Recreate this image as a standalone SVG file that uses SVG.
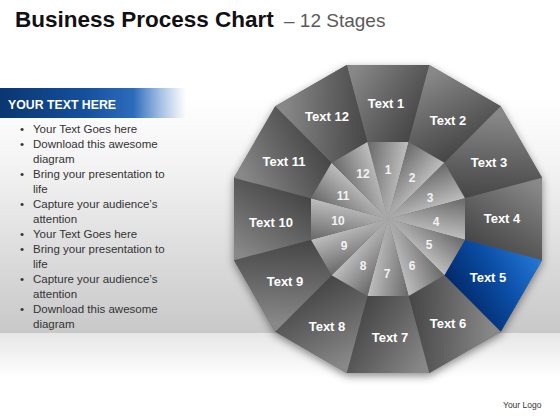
<svg xmlns="http://www.w3.org/2000/svg" width="560" height="420" viewBox="0 0 560 420">
<defs>
<linearGradient id="band" x1="0" y1="0" x2="0" y2="1">
<stop offset="0" stop-color="#ffffff"/>
<stop offset="0.3" stop-color="#f3f3f3"/>
<stop offset="1" stop-color="#c8c8c8"/>
</linearGradient>
<linearGradient id="floor" x1="0" y1="0" x2="0" y2="1">
<stop offset="0" stop-color="#e6e6e6"/>
<stop offset="1" stop-color="#ffffff"/>
</linearGradient>
<linearGradient id="hdr" x1="0" y1="0" x2="1" y2="0">
<stop offset="0" stop-color="#0a3670"/>
<stop offset="0.45" stop-color="#154f9c"/>
<stop offset="0.72" stop-color="#2d6cbc"/>
<stop offset="1" stop-color="#5b8fd0" stop-opacity="0"/>
</linearGradient>
<linearGradient id="og" x1="0" y1="0.2" x2="1" y2="0.8">
<stop offset="0" stop-color="#888888"/>
<stop offset="0.5" stop-color="#626262"/>
<stop offset="1" stop-color="#3f3f3f"/>
</linearGradient>
<linearGradient id="ig" x1="0" y1="0" x2="1" y2="0.3">
<stop offset="0" stop-color="#686868"/>
<stop offset="1" stop-color="#c6c6c6"/>
</linearGradient>
<linearGradient id="bg5" x1="0" y1="0" x2="1" y2="0.5">
<stop offset="0" stop-color="#2479d8"/>
<stop offset="0.5" stop-color="#0b4ea6"/>
<stop offset="1" stop-color="#02296a"/>
</linearGradient>
<radialGradient id="hub" cx="0.5" cy="0.5" r="0.5">
<stop offset="0" stop-color="#a8a8a8" stop-opacity="0.85"/>
<stop offset="1" stop-color="#a8a8a8" stop-opacity="0"/>
</radialGradient>
<filter id="shadow" x="-20%" y="-20%" width="140%" height="140%">
<feGaussianBlur in="SourceAlpha" stdDeviation="4"/>
<feOffset dy="3" result="b"/>
<feFlood flood-color="#000" flood-opacity="0.45"/>
<feComposite in2="b" operator="in"/>
</filter>
<path id="segShape" d="M-41.26,-154 L41.26,-154 L20.63,-77 L-20.63,-77 Z"/>
<path id="wedgeShape" d="M0,0 L-20.63,-77 L20.63,-77 Z"/>
<style>
.title{font-family:"Liberation Sans",Arial,sans-serif;font-weight:bold;font-size:22.5px;fill:#111}
.sub{font-family:"Liberation Sans",Arial,sans-serif;font-size:19px;fill:#5a5a5a}
.hdrt{font-family:"Liberation Sans",Arial,sans-serif;font-weight:bold;font-size:13px;fill:#fff}
.body{font-family:"Liberation Sans",Arial,sans-serif;font-size:11.5px;fill:#333}
.lbl{font-family:"Liberation Sans",Arial,sans-serif;font-weight:bold;font-size:13px;fill:#fff;text-anchor:middle}
.num{font-family:"Liberation Sans",Arial,sans-serif;font-weight:bold;font-size:12px;fill:#f2f2f2;text-anchor:middle}
.logo{font-family:"Liberation Sans",Arial,sans-serif;font-size:8.5px;fill:#333}
</style>
</defs>

<rect x="0" y="0" width="560" height="420" fill="#ffffff"/>
<rect x="0" y="95" width="560" height="238" fill="url(#band)"/>
<rect x="0" y="333" width="560" height="45" fill="url(#floor)"/>

<text x="15" y="27"><tspan class="title">Business Process Chart</tspan><tspan class="sub" x="284">– 12 Stages</tspan></text>

<g id="panel">
<rect x="0" y="88" width="186" height="30" fill="url(#hdr)"/>
<text class="hdrt" x="8" y="109" textLength="108" lengthAdjust="spacingAndGlyphs">YOUR TEXT HERE</text>
<g class="body">
<text x="20" y="133">•</text><text x="33" y="133">Your Text Goes here</text>
<text x="20" y="148">•</text><text x="33" y="148">Download this awesome</text>
<text x="33" y="163">diagram</text>
<text x="20" y="178">•</text><text x="33" y="178">Bring your presentation to</text>
<text x="33" y="193">life</text>
<text x="20" y="208">•</text><text x="33" y="208">Capture your audience’s</text>
<text x="33" y="223">attention</text>
<text x="20" y="238">•</text><text x="33" y="238">Your Text Goes here</text>
<text x="20" y="253">•</text><text x="33" y="253">Bring your presentation to</text>
<text x="33" y="268">life</text>
<text x="20" y="283">•</text><text x="33" y="283">Capture your audience’s</text>
<text x="33" y="298">attention</text>
<text x="20" y="313">•</text><text x="33" y="313">Download this awesome</text>
<text x="33" y="328">diagram</text>
</g>
</g>

<g id="chart">
<polygon filter="url(#shadow)" fill="#555" points="429.26,65 500.73,106.27 542,177.74 542,260.26 500.73,331.73 429.26,373 346.74,373 275.27,331.73 234,260.26 234,177.74 275.27,106.27 346.74,65"/>
<polygon fill="#5a5a5a" points="429.26,65 500.73,106.27 542,177.74 542,260.26 500.73,331.73 429.26,373 346.74,373 275.27,331.73 234,260.26 234,177.74 275.27,106.27 346.74,65"/>

<g id="stage1"><use href="#segShape" fill="url(#og)" transform="translate(388,219) rotate(0)"/><use href="#wedgeShape" fill="url(#ig)" transform="translate(388,219) rotate(0)"/></g>
<g id="stage2"><use href="#segShape" fill="url(#og)" transform="translate(388,219) rotate(30)"/><use href="#wedgeShape" fill="url(#ig)" transform="translate(388,219) rotate(30)"/></g>
<g id="stage3"><use href="#segShape" fill="url(#og)" transform="translate(388,219) rotate(60)"/><use href="#wedgeShape" fill="url(#ig)" transform="translate(388,219) rotate(60)"/></g>
<g id="stage4"><use href="#segShape" fill="url(#og)" transform="translate(388,219) rotate(90)"/><use href="#wedgeShape" fill="url(#ig)" transform="translate(388,219) rotate(90)"/></g>
<g id="stage5"><use href="#segShape" fill="url(#bg5)" transform="translate(388,219) rotate(120)"/><use href="#wedgeShape" fill="url(#ig)" transform="translate(388,219) rotate(120)"/></g>
<g id="stage6"><use href="#segShape" fill="url(#og)" transform="translate(388,219) rotate(150)"/><use href="#wedgeShape" fill="url(#ig)" transform="translate(388,219) rotate(150)"/></g>
<g id="stage7"><use href="#segShape" fill="url(#og)" transform="translate(388,219) rotate(180)"/><use href="#wedgeShape" fill="url(#ig)" transform="translate(388,219) rotate(180)"/></g>
<g id="stage8"><use href="#segShape" fill="url(#og)" transform="translate(388,219) rotate(210)"/><use href="#wedgeShape" fill="url(#ig)" transform="translate(388,219) rotate(210)"/></g>
<g id="stage9"><use href="#segShape" fill="url(#og)" transform="translate(388,219) rotate(240)"/><use href="#wedgeShape" fill="url(#ig)" transform="translate(388,219) rotate(240)"/></g>
<g id="stage10"><use href="#segShape" fill="url(#og)" transform="translate(388,219) rotate(270)"/><use href="#wedgeShape" fill="url(#ig)" transform="translate(388,219) rotate(270)"/></g>
<g id="stage11"><use href="#segShape" fill="url(#og)" transform="translate(388,219) rotate(300)"/><use href="#wedgeShape" fill="url(#ig)" transform="translate(388,219) rotate(300)"/></g>
<g id="stage12"><use href="#segShape" fill="url(#og)" transform="translate(388,219) rotate(330)"/><use href="#wedgeShape" fill="url(#ig)" transform="translate(388,219) rotate(330)"/></g>

<circle cx="388" cy="219" r="26" fill="url(#hub)"/>

<g id="labels">
<text class="lbl" x="386" y="107.5">Text 1</text>
<text class="lbl" x="448" y="125">Text 2</text>
<text class="lbl" x="489" y="167">Text 3</text>
<text class="lbl" x="502" y="223">Text 4</text>
<text class="lbl" x="488" y="282">Text 5</text>
<text class="lbl" x="448" y="328">Text 6</text>
<text class="lbl" x="390" y="342">Text 7</text>
<text class="lbl" x="327" y="331">Text 8</text>
<text class="lbl" x="285" y="286">Text 9</text>
<text class="lbl" x="271" y="227">Text 10</text>
<text class="lbl" x="284" y="166">Text 11</text>
<text class="lbl" x="327" y="121">Text 12</text>
<text class="num" x="388" y="173.5">1</text>
<text class="num" x="412" y="181.5">2</text>
<text class="num" x="430" y="201.5">3</text>
<text class="num" x="436" y="225.5">4</text>
<text class="num" x="429" y="248.5">5</text>
<text class="num" x="412" y="269.5">6</text>
<text class="num" x="387" y="277.5">7</text>
<text class="num" x="363" y="269.5">8</text>
<text class="num" x="344" y="249.5">9</text>
<text class="num" x="338" y="224.5">10</text>
<text class="num" x="343" y="199.5">11</text>
<text class="num" x="363" y="177.5">12</text>
</g>
</g>

<text class="logo" x="503" y="408">Your Logo</text>
</svg>
